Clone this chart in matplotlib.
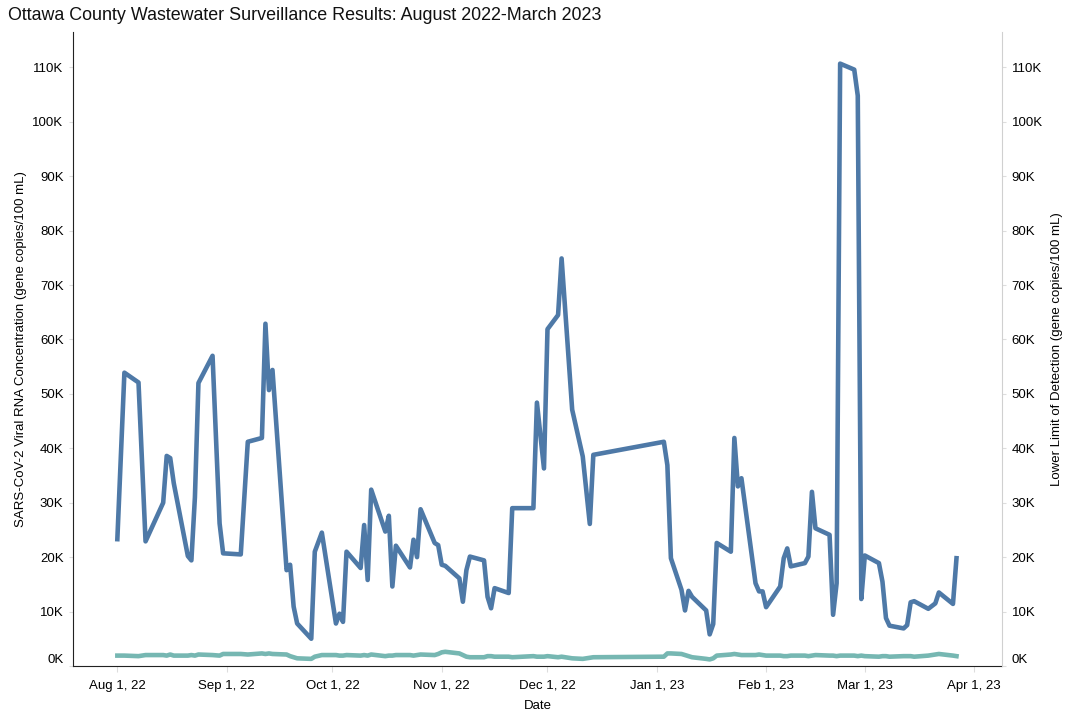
import matplotlib
matplotlib.use("Agg")
import matplotlib.pyplot as plt
import matplotlib.dates as mdates
from matplotlib.ticker import FuncFormatter
import pandas as pd

plt.rcParams['font.family'] = ['Liberation Sans', 'DejaVu Sans']

# sample dates, one list per month
aug = ["2022-08-01", "2022-08-03", "2022-08-07", "2022-08-09", "2022-08-14", "2022-08-15", "2022-08-16",
       "2022-08-17", "2022-08-21", "2022-08-22", "2022-08-23", "2022-08-24", "2022-08-28", "2022-08-30",
       "2022-08-31"]
sep = ["2022-09-05", "2022-09-07", "2022-09-11", "2022-09-12", "2022-09-13", "2022-09-14", "2022-09-18",
       "2022-09-19", "2022-09-20", "2022-09-21", "2022-09-25", "2022-09-26", "2022-09-28"]
oct_ = ["2022-10-02", "2022-10-03", "2022-10-04", "2022-10-05", "2022-10-09", "2022-10-10", "2022-10-11",
        "2022-10-12", "2022-10-16", "2022-10-17", "2022-10-18", "2022-10-19", "2022-10-23", "2022-10-24",
        "2022-10-25", "2022-10-26", "2022-10-30", "2022-10-31"]
nov = ["2022-11-01", "2022-11-02", "2022-11-06", "2022-11-07", "2022-11-08", "2022-11-09", "2022-11-13",
       "2022-11-14", "2022-11-15", "2022-11-16", "2022-11-20", "2022-11-21", "2022-11-27", "2022-11-28",
       "2022-11-30"]
dec = ["2022-12-01", "2022-12-04", "2022-12-05", "2022-12-08", "2022-12-11", "2022-12-13", "2022-12-14"]
jan = ["2023-01-03", "2023-01-04", "2023-01-05", "2023-01-08", "2023-01-09", "2023-01-10", "2023-01-11",
       "2023-01-15", "2023-01-16", "2023-01-17", "2023-01-18", "2023-01-22", "2023-01-23", "2023-01-24",
       "2023-01-25", "2023-01-29", "2023-01-30", "2023-01-31"]
feb = ["2023-02-01", "2023-02-05", "2023-02-06", "2023-02-07", "2023-02-08", "2023-02-12", "2023-02-13",
       "2023-02-14", "2023-02-15", "2023-02-19", "2023-02-20", "2023-02-21", "2023-02-22", "2023-02-26",
       "2023-02-27", "2023-02-28"]
mar = ["2023-03-01", "2023-03-05", "2023-03-06", "2023-03-07", "2023-03-08", "2023-03-12", "2023-03-13",
       "2023-03-14", "2023-03-15", "2023-03-19", "2023-03-21", "2023-03-22", "2023-03-26", "2023-03-27"]

# SARS-CoV-2 concentration (thousand gene copies / 100 mL)
conc_aug = [23.3, 53.9, 52.1, 22.9, 30.0, 38.6, 38.2, 33.6, 20.2, 19.4, 31.0, 52.0, 57.0, 26.2, 20.7]
conc_sep = [20.5, 41.2, 41.9, 62.9, 50.7, 54.4, 17.6, 18.6, 10.9, 7.8, 5.0, 21.0, 24.5]
conc_oct = [7.8, 9.6, 8.1, 21.0, 18.0, 25.9, 15.8, 32.4, 24.7, 27.6, 14.6, 22.1, 18.1, 23.2, 20.0, 28.8,
            22.6, 22.2]
conc_nov = [18.6, 18.4, 16.1, 11.8, 17.6, 20.1, 19.4, 12.7, 10.6, 14.3, 13.4, 29.0, 29.0, 48.4, 36.3]
conc_dec = [61.9, 64.5, 74.9, 47.1, 38.5, 26.1, 38.8]
conc_jan = [41.2, 36.9, 19.8, 14.0, 10.2, 13.8, 12.7, 10.2, 5.8, 7.7, 22.6, 21.0, 41.9, 33.0, 34.5, 15.2,
            13.7, 13.7]
conc_feb = [10.8, 14.6, 19.8, 21.6, 18.3, 18.9, 20.1, 32.0, 25.3, 24.1, 9.4, 15.2, 110.7, 109.6, 104.8, 12.3]
conc_mar = [20.3, 18.9, 15.5, 8.8, 7.4, 6.9, 7.5, 11.7, 11.9, 10.5, 11.5, 13.5, 11.4, 19.8]

# lower limit of detection (thousand gene copies / 100 mL)
llod_aug = [1.9, 1.9, 1.8, 2.0, 2.0, 1.9, 2.1, 1.9, 1.9, 2.0, 1.9, 2.1, 2.0, 1.9, 2.2]
llod_sep = [2.2, 2.1, 2.3, 2.2, 2.3, 2.2, 2.1, 1.8, 1.6, 1.4, 1.3, 1.7, 2.0]
llod_oct = [2.0, 1.9, 1.9, 2.0, 1.9, 2.0, 1.9, 2.1, 1.8, 1.9, 1.9, 2.0, 2.0, 1.9, 2.0, 2.1, 2.0, 2.2]
llod_nov = [2.5, 2.6, 2.3, 2.0, 1.7, 1.6, 1.6, 1.8, 1.8, 1.7, 1.7, 1.6, 1.8, 1.7, 1.7]
llod_dec = [1.8, 1.6, 1.7, 1.4, 1.3, 1.5, 1.6]
llod_jan = [1.7, 2.3, 2.3, 2.2, 2.0, 1.8, 1.6, 1.3, 1.2, 1.4, 1.9, 2.1, 2.2, 2.1, 2.0, 2.0, 2.1, 2.0]
llod_feb = [1.9, 1.9, 1.8, 1.8, 1.9, 1.9, 1.8, 1.9, 2.0, 1.9, 1.9, 1.8, 1.9, 1.9, 1.8, 1.9]
llod_mar = [1.8, 1.7, 1.8, 1.8, 1.7, 1.8, 1.8, 1.8, 1.7, 1.9, 2.1, 2.2, 1.9, 1.8]

dates = pd.to_datetime(aug + sep + oct_ + nov + dec + jan + feb + mar)
conc = [v * 1000 for v in conc_aug + conc_sep + conc_oct + conc_nov + conc_dec + conc_jan + conc_feb + conc_mar]
llod = [v * 1000 for v in llod_aug + llod_sep + llod_oct + llod_nov + llod_dec + llod_jan + llod_feb + llod_mar]

yticks = list(range(0, 110001, 10000))
ymax = 116500

fig = plt.figure(figsize=(10.65, 7.13), dpi=100)
ax = fig.add_axes([0.0688, 0.066, 0.8718, 0.889])
ax2 = ax.twinx()

ax.plot(dates, conc, color="#4e79a7", lw=3.3, solid_joinstyle="round", zorder=3)
ax2.plot(dates, llod, color="#76b7b2", lw=3.3, solid_joinstyle="round", zorder=2)

kfmt = FuncFormatter(lambda v, p: f"{int(round(v / 1000))}K")
for a in (ax, ax2):
    a.set_ylim(0, ymax)
    a.set_yticks(yticks)
    a.yaxis.set_major_formatter(kfmt)
    a.tick_params(axis="y", length=3, color="#dddddd", labelsize=9.5, pad=4)
    a.spines["top"].set_visible(False)

ax.set_xlim(pd.Timestamp("2022-07-19 12:00"), pd.Timestamp("2023-04-08 20:00"))
ax.xaxis.set_major_locator(mdates.MonthLocator())
ax.xaxis.set_major_formatter(mdates.DateFormatter("%b %-d, %y"))
ax.tick_params(axis="x", length=4, color="#dddddd", labelsize=9.5, pad=6)

ax.spines["left"].set_color("#222222")
ax.spines["bottom"].set_color("#222222")
ax.spines["right"].set_visible(False)
ax2.spines["left"].set_visible(False)
ax2.spines["bottom"].set_visible(False)
ax2.spines["right"].set_color("#d0d0d0")

# bottom "0K" labels sit above the axis line, as in the original
ax.get_yticklabels()[0].set_va("bottom")
ax2.get_yticklabels()[0].set_va("bottom")

ax.set_ylabel("SARS-CoV-2 Viral RNA Concentration (gene copies/100 mL)", fontsize=9.5, labelpad=4)
ax2.set_ylabel("Lower Limit of Detection (gene copies/100 mL)", fontsize=9.5, labelpad=6)
ax.set_xlabel("Date", fontsize=9.5, labelpad=6)

fig.text(0.0075, 0.978, "Ottawa County Wastewater Surveillance Results: August 2022-March 2023",
         fontsize=12.9, va="center", ha="left", color="#111111")

fig.savefig("out.png", dpi=100)
